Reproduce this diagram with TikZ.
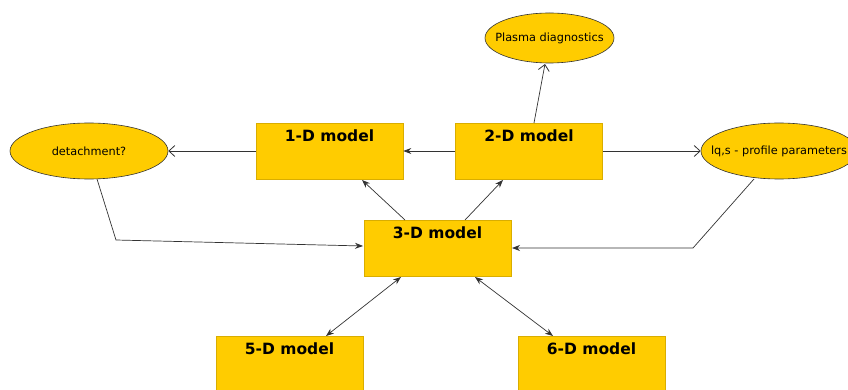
\documentclass[tikz,border=0pt]{standalone}
\usepackage{fontspec}
\setmainfont{DejaVu Sans}
\usetikzlibrary{arrows.meta,shapes.geometric}
\definecolor{gold}{HTML}{FFCC00}
\definecolor{goldedge}{HTML}{D9AD00}
\definecolor{lineg}{HTML}{333333}
\begin{document}
\begin{tikzpicture}[x=1pt,y=-1pt,
  box/.style={draw=goldedge,fill=gold,line width=0.6pt,minimum width=147pt,minimum height=56pt,inner sep=0pt},
  btext/.style={anchor=north,inner sep=0pt,yshift=-7pt,font=\fontsize{15.5}{18}\selectfont\bfseries},
  ell/.style={ellipse,draw=black!80,fill=gold,line width=0.6pt,inner xsep=-40pt,inner ysep=0pt,font=\fontsize{11.3}{13}\selectfont},
  conn/.style={draw=lineg,line width=0.7pt},
  openarr/.style={conn,-{Straight Barb[length=6pt,width=11pt,line width=0.8pt]}},
  fillarr/.style={conn,-{Stealth[length=8pt,width=6pt]}},
  bothway/.style={conn,{Stealth[length=8pt,width=6pt]}-{Stealth[length=8pt,width=6pt]}}
]
\useasboundingbox (0,0) rectangle (848,390);
% boxes
\node[box] (m1) at (329.5,151) {};
\node[btext] (t1) at (m1.north) {1-D model};
\node[box] (m2) at (529,151) {};
\node[btext] (t2) at (m2.north) {2-D model};
\node[box] (m3) at (437.5,248) {};
\node[btext] (t3) at (m3.north) {3-D model};
\node[box,minimum height=60pt,anchor=north] (m5) at (289.5,336) {};
\node[btext] (t5) at (m5.north) {5-D model};
\node[box,minimum height=60pt,anchor=north] (m6) at (591.5,336) {};
\node[btext] (t6) at (m6.north) {6-D model};
% ellipses
\node[ell,minimum width=129pt,minimum height=50pt] (pd) at (549.5,38) {Plasma diagnostics};
\node[ell,minimum width=158pt,minimum height=56pt] (det) at (89,151) {detachment?};
\node[ell,minimum width=156pt,minimum height=56pt] (lq) at (779,151) {lq,s - profile parameters};
% coordinates
\coordinate (a1) at (534,123);
\coordinate (a2) at (545,64);
\coordinate (b1) at (405,220);
\coordinate (b2) at (362,180);
\coordinate (c1) at (465,220);
\coordinate (c2) at (503,180);
\coordinate (d1) at (97,179);
\coordinate (d2) at (116,240);
\coordinate (d3) at (363,246);
\coordinate (e1) at (754,179);
\coordinate (e2) at (693,248);
\coordinate (e3) at (512,248);
\coordinate (f1) at (401,277);
\coordinate (f2) at (326,336);
\coordinate (g1) at (475,277);
\coordinate (g2) at (553,336);
% connectors
\draw[openarr] (m1.west) -- (det.east);
\draw[fillarr] (m2.west) -- (m1.east);
\draw[openarr] (m2.east) -- (lq.west);
\draw[openarr] (a1) -- (a2);
\draw[fillarr] (b1) -- (b2);
\draw[fillarr] (c1) -- (c2);
\draw[fillarr] (d1) -- (d2) -- (d3);
\draw[fillarr] (e1) -- (e2) -- (e3);
\draw[bothway] (f1) -- (f2);
\draw[bothway] (g1) -- (g2);
\end{tikzpicture}
\end{document}
